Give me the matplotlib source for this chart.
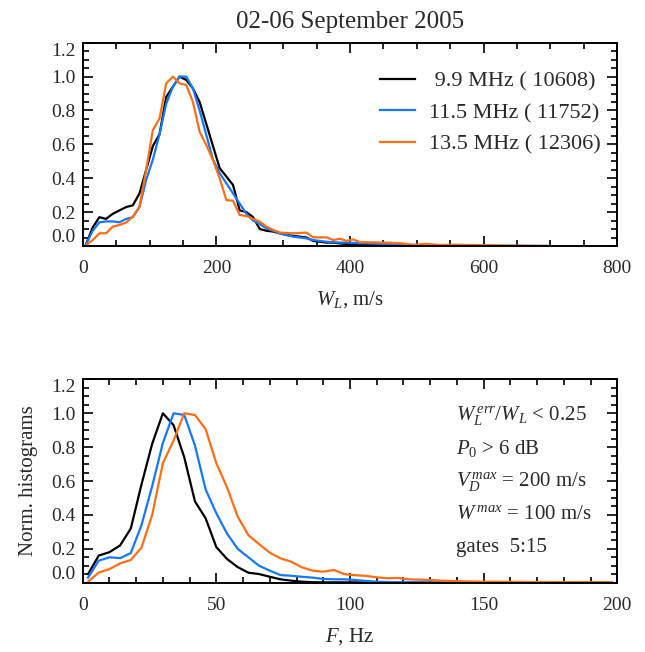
import numpy as np
import matplotlib
matplotlib.use("Agg")
import matplotlib.pyplot as plt
from matplotlib.ticker import MultipleLocator

plt.rcParams['font.family'] = ['Liberation Serif', 'DejaVu Serif']
plt.rcParams['mathtext.fontset'] = 'custom'
plt.rcParams['mathtext.rm'] = 'Liberation Serif'
plt.rcParams['mathtext.it'] = 'Liberation Serif:italic'

TXT = '#2a2a2a'

# ---------------- data ----------------
title = "02-06 September 2005"
freqs = ["9.9", "11.5", "13.5"]
counts = [10608, 11752, 12306]
colors = ["black", "#1478ff", "#ff6e14"]

# top panel: spectral width W_L bins (m/s), bin centres
w_bins = np.arange(5, 700, 10)
w_black = [0.01, 0.11, 0.17, 0.16, 0.19, 0.21, 0.23, 0.24, 0.31, 0.45,
           0.59, 0.66, 0.88, 0.94, 1.00, 0.98, 0.93, 0.85, 0.72, 0.59,
           0.46, 0.41, 0.36, 0.21, 0.20, 0.17, 0.10, 0.09, 0.085, 0.075,
           0.065, 0.06, 0.055, 0.05, 0.03, 0.025, 0.02, 0.02, 0.015, 0.012,
           0.01, 0.01, 0.008, 0.007, 0.006, 0.005, 0.004, 0.004, 0.004, 0.003,
           0.003, 0.003, 0.002, 0.002, 0.002, 0.002, 0.002, 0.001, 0.001, 0.001,
           0.001, 0.0, 0.0, 0.0, 0.0, 0.0, 0.0, 0.0, 0.0, 0.0]
w_blue = [0.01, 0.09, 0.14, 0.145, 0.145, 0.14, 0.16, 0.17, 0.23, 0.39,
          0.51, 0.66, 0.84, 0.94, 1.00, 1.00, 0.93, 0.80, 0.655, 0.51,
          0.43, 0.37, 0.31, 0.25, 0.19, 0.15, 0.13, 0.104, 0.09, 0.075,
          0.065, 0.055, 0.05, 0.045, 0.035, 0.03, 0.025, 0.022, 0.02, 0.02,
          0.018, 0.016, 0.016, 0.014, 0.013, 0.012, 0.011, 0.01, 0.008, 0.007,
          0.006, 0.005, 0.005, 0.004, 0.004, 0.003, 0.003, 0.003, 0.002, 0.002,
          0.002, 0.002, 0.001, 0.001, 0.001, 0.001, 0.0, 0.0, 0.0, 0.0]
w_orange = [0.006, 0.035, 0.075, 0.075, 0.114, 0.124, 0.138, 0.173, 0.232, 0.45,
            0.684, 0.753, 0.96, 1.00, 0.96, 0.95, 0.85, 0.674, 0.596, 0.507,
            0.40, 0.271, 0.267, 0.183, 0.177, 0.16, 0.144, 0.114, 0.095, 0.079,
            0.077, 0.075, 0.077, 0.079, 0.051, 0.051, 0.051, 0.035, 0.043, 0.030,
            0.039, 0.022, 0.022, 0.022, 0.02, 0.02, 0.018, 0.016, 0.012, 0.006,
            0.01, 0.012, 0.009, 0.006, 0.007, 0.008, 0.007, 0.006, 0.006, 0.004,
            0.004, 0.003, 0.003, 0.002, 0.002, 0.002, 0.001, 0.001, 0.0, 0.0]

# bottom panel: frequency F bins (Hz), bin centres
f_bins = np.arange(2, 200, 4)
f_black = [0.05, 0.16, 0.18, 0.22, 0.32, 0.58, 0.82, 1.00, 0.93, 0.74,
           0.48, 0.38, 0.21, 0.14, 0.092, 0.059, 0.051, 0.035, 0.02, 0.012,
           0.006, 0.003, 0.002, 0.002, 0.002, 0.002, 0.001, 0.001, 0.001, 0.001,
           0.001, 0.001, 0.0, 0.0, 0.0, 0.0, 0.0, 0.0, 0.0, 0.0,
           0.0, 0.0, 0.0, 0.0, 0.0, 0.0, 0.0, 0.0, 0.0, 0.0]
f_blue = [0.03, 0.13, 0.15, 0.145, 0.175, 0.34, 0.57, 0.825, 1.00, 0.99,
          0.81, 0.55, 0.41, 0.29, 0.20, 0.15, 0.10, 0.071, 0.045, 0.041,
          0.035, 0.03, 0.022, 0.02, 0.02, 0.016, 0.01, 0.006, 0.004, 0.003,
          0.003, 0.002, 0.002, 0.002, 0.002, 0.001, 0.001, 0.001, 0.001, 0.001,
          0.001, 0.0, 0.0, 0.0, 0.0, 0.0, 0.0, 0.0, 0.0, 0.0]
f_orange = [0.006, 0.06, 0.08, 0.114, 0.134, 0.207, 0.40, 0.705, 0.84, 1.00,
            0.99, 0.906, 0.705, 0.563, 0.39, 0.28, 0.228, 0.177, 0.144, 0.124,
            0.091, 0.071, 0.065, 0.075, 0.05, 0.044, 0.04, 0.032, 0.026, 0.028,
            0.02, 0.018, 0.016, 0.012, 0.01, 0.008, 0.007, 0.006, 0.006, 0.005,
            0.005, 0.004, 0.004, 0.004, 0.003, 0.003, 0.003, 0.002, 0.002, 0.002]

notes = [r"$W_L^{\,err}/W_L$ < 0.25",
         r"$P_0$ > 6 dB",
         r"$V_D^{\,max}$ = 200 m/s",
         r"$W^{\,max}$ = 100 m/s",
         "gates  5:15"]

# ---------------- figure ----------------
fig = plt.figure(figsize=(6.45, 6.52), dpi=100)
ax1 = fig.add_axes([0.1282, 0.6227, 0.8288, 0.3118])
ax2 = fig.add_axes([0.1282, 0.1063, 0.8288, 0.3118])


def style(ax, xmax, xmaj, xmin):
    ax.set_xlim(0, xmax)
    ax.set_ylim(0, 1.2)
    ax.xaxis.set_major_locator(MultipleLocator(xmaj))
    ax.xaxis.set_minor_locator(MultipleLocator(xmin))
    ax.yaxis.set_major_locator(MultipleLocator(0.2))
    ax.yaxis.set_minor_locator(MultipleLocator(0.05))
    ax.tick_params(which='both', direction='in', top=True, right=True,
                   colors='black', labelcolor=TXT, labelsize=14, width=1.2)
    ax.tick_params(which='major', length=7.5)
    ax.tick_params(which='minor', length=4)
    ax.tick_params(axis='x', pad=10)
    ax.tick_params(axis='y', pad=5)
    ax.yaxis.set_major_formatter(matplotlib.ticker.FormatStrFormatter('%.1f'))
    for s in ax.spines.values():
        s.set_linewidth(1.4)


style(ax1, 800, 200, 50)
style(ax2, 200, 50, 10)

for f, n, c, yw, yf in zip(freqs, counts, colors,
                           [w_black, w_blue, w_orange],
                           [f_black, f_blue, f_orange]):
    lab = f"{f} MHz ( {n})"
    if len(f) == 3:
        lab = " " + lab
    ax1.plot(w_bins, yw, color=c, lw=1.6, label=lab)
    ax2.plot(f_bins, yf, color=c, lw=1.6)

leg = ax1.legend(loc='upper right', bbox_to_anchor=(0.985, 0.905), frameon=False,
                 fontsize=16, handlelength=1.6, handletextpad=0.6,
                 labelspacing=0.5, borderaxespad=0)
for t in leg.get_texts():
    t.set_color(TXT)

fig.text(0.5426, 0.966, title, ha='center', va='center', fontsize=18, color=TXT)
ax1.set_xlabel(r"$W_L$, m/s", fontsize=15, color=TXT, labelpad=9)
ax2.set_xlabel(r"$F$, Hz", fontsize=15, color=TXT, labelpad=9)
fig.text(0.044, 0.263, "Norm. histograms", rotation=90, ha='center', va='center',
         fontsize=15, color=TXT)

for i, s in enumerate(notes):
    ax2.text(0.698, 0.82 - i * 0.162, s, transform=ax2.transAxes, ha='left',
             va='center', fontsize=15, color=TXT)

fig.canvas.draw()
for ax in (ax1, ax2):
    labs = ax.get_yticklabels()
    for lab in labs:
        if lab.get_text() == '0.0':
            lab.set_va('bottom')
        elif lab.get_text() == '1.2':
            lab.set_va('top')

fig.savefig("out.png", dpi=100)
